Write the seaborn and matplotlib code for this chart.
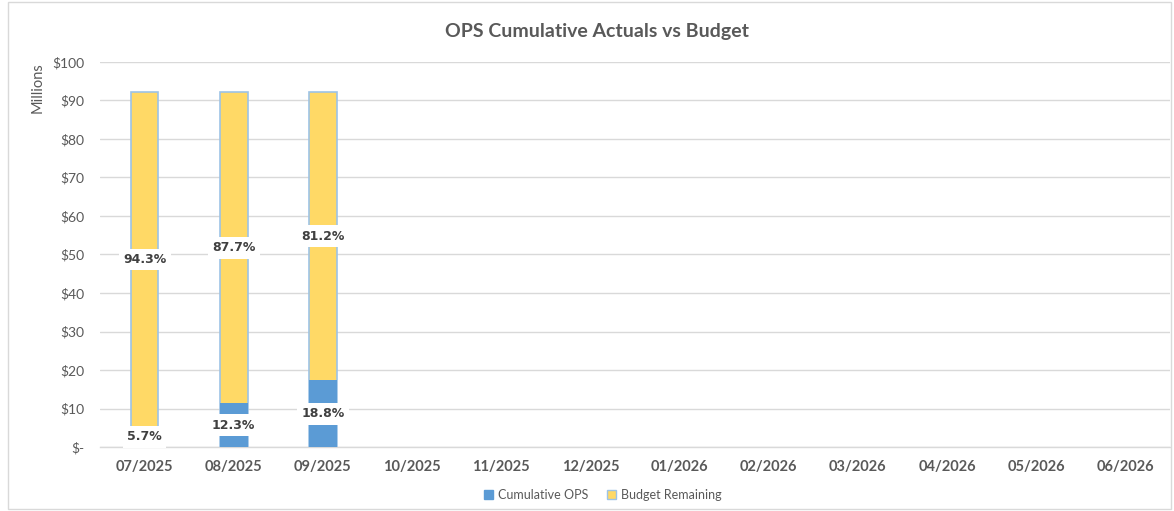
import numpy as np
import pandas as pd
import matplotlib
matplotlib.use("Agg")
import matplotlib.pyplot as plt
import seaborn as sns
from matplotlib.patches import Patch, Rectangle

# ---- data ----
months = ["07/2025", "08/2025", "09/2025", "10/2025", "11/2025", "12/2025",
          "01/2026", "02/2026", "03/2026", "04/2026", "05/2026", "06/2026"]
cumulative_ops = [5.26, 11.34, 17.33] + [np.nan] * 9      # $ millions
budget_remaining = [86.94, 80.86, 74.87] + [np.nan] * 9   # $ millions
pct_ops = ["5.7%", "12.3%", "18.8%"]
pct_remaining = ["94.3%", "87.7%", "81.2%"]
y_ticks = [0, 10, 20, 30, 40, 50, 60, 70, 80, 90, 100]
y_tick_labels = ["$-", "$10", "$20", "$30", "$40", "$50", "$60", "$70", "$80", "$90", "$100"]

df = pd.DataFrame({"month": months, "ops": cumulative_ops, "remaining": budget_remaining})
df["total"] = df["ops"] + df["remaining"]

BLUE = "#5B9BD5"
YELLOW = "#FFD966"
EDGE = "#9DC3E6"
GRID = "#D9D9D9"
TXT = "#595959"

sns.set_theme(style="white")
plt.rcParams["font.family"] = ["Lato", "DejaVu Sans"]

W, H = 1174, 511
fig = plt.figure(figsize=(W / 100, H / 100), dpi=100)
ax = fig.add_axes([100 / W, (H - 447) / H, (1170 - 100) / W, (447 - 62) / H])

sns.barplot(data=df, x="month", y="total", order=months, color=YELLOW,
            width=0.31, edgecolor=EDGE, linewidth=1.2, ax=ax, zorder=3,
            saturation=1, errorbar=None)
sns.barplot(data=df, x="month", y="ops", order=months, color=BLUE,
            width=0.31, edgecolor=BLUE, linewidth=0.0, ax=ax, zorder=4,
            saturation=1, errorbar=None)

ax.set_ylim(0, 100)
ax.set_xlim(-0.5, len(months) - 0.5)
ax.set_yticks(y_ticks)
ax.set_yticklabels(y_tick_labels, color=TXT, fontsize=10)
ax.yaxis.grid(True, color=GRID, linewidth=1.0, zorder=0)
ax.set_axisbelow(True)
for s in ["top", "right", "left"]:
    ax.spines[s].set_visible(False)
ax.spines["bottom"].set_color(GRID)
ax.spines["bottom"].set_linewidth(1.0)
ax.tick_params(axis="y", length=0, pad=11.5)
ax.set_xticks(range(len(months)))
ax.set_xticklabels(months, fontweight="bold", color=TXT, fontsize=10.5)
ax.tick_params(axis="x", length=0, pad=9)
ax.set_xticks(np.arange(-0.5, len(months) + 0.5, 1), minor=True)
ax.tick_params(axis="x", which="minor", length=5, color=GRID, width=1.0)
ax.set_xlabel("")
ax.set_ylabel("")
fig.text(38 / W, 1 - 88 / H, "Millions", rotation=90, ha="center", va="center",
         color=TXT, fontsize=10.5)

# data labels
for i in range(len(pct_ops)):
    ops = df.loc[i, "ops"]
    tot = df.loc[i, "total"]
    kw = dict(ha="center", va="center", fontsize=9, fontweight="bold",
              color="#404040", family="DejaVu Sans", zorder=6,
              bbox=dict(boxstyle="square,pad=0.35", facecolor="white", edgecolor="none"))
    ax.text(i, ops / 2, pct_ops[i], **kw)
    ax.text(i, (ops + tot) / 2, pct_remaining[i], **kw)

fig.text(597 / W, 1 - 32 / H, "OPS Cumulative Actuals vs Budget", ha="center", va="center",
         fontsize=14, fontweight="bold", color=TXT)

handles = [Patch(facecolor=BLUE, edgecolor=BLUE, label="Cumulative OPS"),
           Patch(facecolor=YELLOW, edgecolor=EDGE, label="Budget Remaining")]
fig.legend(handles=handles, loc="center", bbox_to_anchor=(603 / W, 1 - 495 / H), ncol=2,
           frameon=False, fontsize=9, handlelength=0.7, handleheight=0.7,
           handletextpad=0.4, columnspacing=1.5, labelcolor=TXT)

# chart border
fig.patches.append(Rectangle((8 / W, 2 / H), (1171 - 8) / W, (509 - 2) / H,
                             transform=fig.transFigure, fill=False,
                             edgecolor=GRID, linewidth=1.0))

fig.savefig("out.png", dpi=100)
